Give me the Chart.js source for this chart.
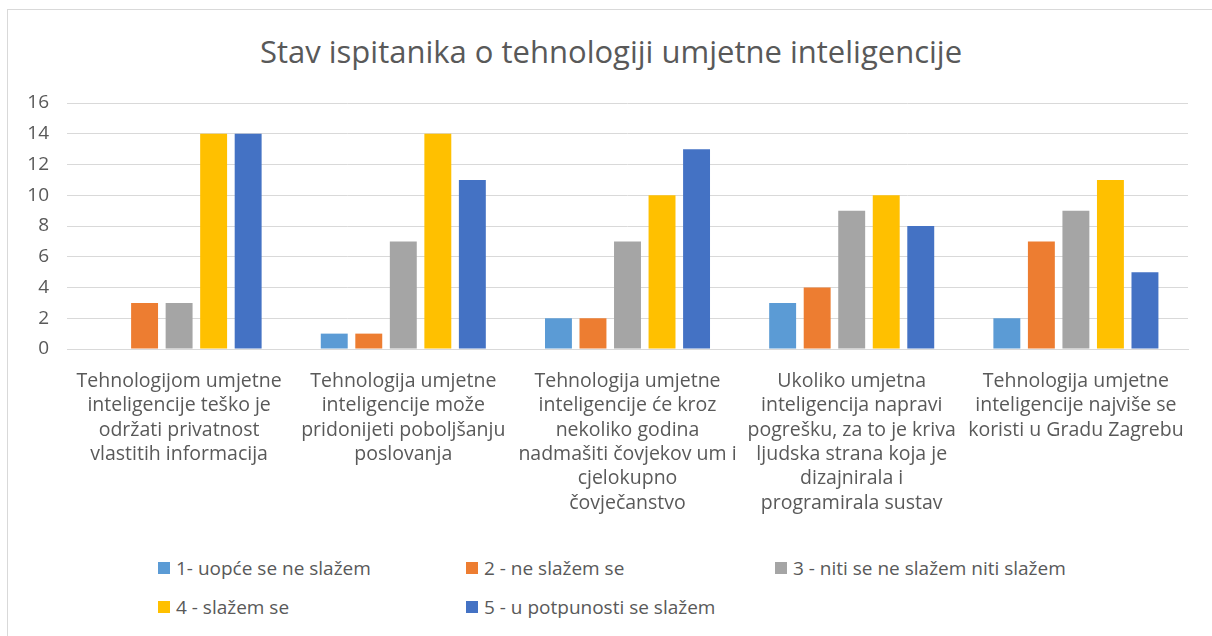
<!DOCTYPE html>
<html>
<head>
<meta charset="utf-8">
<script src="https://cdn.jsdelivr.net/npm/chart.js@4/dist/chart.umd.min.js"></script>
<style>
  body { margin: 0; background: #fff; }
  #frame {
    position: absolute; left: 7px; top: 9px; width: 1220px; height: 640px;
    border: 1px solid #d9d9d9; box-sizing: border-box;
  }
  #title {
    position: absolute; left: 0; top: 32px; width: 1222px; text-align: center;
    font-family: 'Open Sans', sans-serif; font-size: 31px; line-height: 38px; color: #595959;
  }
  #wrap { position: absolute; left: 0; top: 0; width: 1212px; height: 540px; }
  #legend { position: absolute; left: 0; top: 0; font-family: 'Open Sans', sans-serif; font-size: 19px; color: #595959; }
  .legend-item { position: absolute; white-space: nowrap; display: flex; align-items: center; height: 26px; line-height: 26px; }
  .legend-box { width: 12px; height: 12px; margin-right: 6px; }
</style>
</head>
<body>
<div id="frame"></div>
<div id="title">Stav ispitanika o tehnologiji umjetne inteligencije</div>
<div id="wrap"><canvas id="chart"></canvas></div>
<div id="legend"></div>
<script>
const categories = [
  ['Tehnologijom umjetne', 'inteligencije teško je', 'održati privatnost', 'vlastitih informacija'],
  ['Tehnologija umjetne', 'inteligencije može', 'pridonijeti poboljšanju', 'poslovanja'],
  ['Tehnologija umjetne', 'inteligencije će kroz', 'nekoliko godina', 'nadmašiti čovjekov um i', 'cjelokupno', 'čovječanstvo'],
  ['Ukoliko umjetna', 'inteligencija napravi', 'pogrešku, za to je kriva', 'ljudska strana koja je', 'dizajnirala i', 'programirala sustav'],
  ['Tehnologija umjetne', 'inteligencije najviše se', 'koristi u Gradu Zagrebu'],
];

const seriesNames = [
  '1- uopće se ne slažem',
  '2 - ne slažem se',
  '3 - niti se ne slažem niti slažem',
  '4 - slažem se',
  '5 - u potpunosti se slažem',
];
const seriesColors = ['#5b9bd5', '#ed7d31', '#a5a5a5', '#ffc000', '#4472c4'];

const s1 = [0, 1, 2, 3, 2];
const s2 = [3, 1, 2, 4, 7];
const s3 = [3, 7, 7, 9, 9];
const s4 = [14, 14, 10, 10, 11];
const s5 = [14, 11, 13, 8, 5];
const seriesValues = [s1, s2, s3, s4, s5];

const textColor = '#595959';
const font = "'Open Sans', sans-serif";

const ctx = document.getElementById('chart').getContext('2d');
ctx.canvas.parentNode.style.width = '1212px';
ctx.canvas.parentNode.style.height = '540px';

const chart = new Chart(ctx, {
  type: 'bar',
  data: {
    labels: categories,
    datasets: seriesNames.map((name, i) => {
      return {
        label: name,
        data: seriesValues[i],
        backgroundColor: seriesColors[i],
        barPercentage: 0.78,
        categoryPercentage: 0.77,
      };
    }),
  },
  options: {
    responsive: true,
    maintainAspectRatio: false,
    animation: false,
    layout: { padding: { left: 8, right: 24, top: 103, bottom: 0 } },
    plugins: {
      legend: { display: false },
      tooltip: { enabled: false },
      title: { display: false },
    },
    scales: {
      x: {
        grid: { display: false, drawTicks: false },
        border: { color: '#d9d9d9' },
        ticks: {
          color: textColor,
          font: { family: font, size: 19.5, lineHeight: 1.25 },
          maxRotation: 0,
          autoSkip: false,
          padding: 20,
        },
        afterFit: scale => {
          scale.height = 191;
        },
      },
      y: {
        min: 0,
        max: 16,
        grid: { color: '#d9d9d9', drawTicks: false },
        border: { display: false },
        ticks: {
          stepSize: 2,
          color: textColor,
          font: { family: font, size: 19 },
          padding: 18,
        },
        afterFit: scale => {
          scale.width = 59;
        },
      },
    },
  },
});

// legend in fixed columns like the original
const legendEl = document.getElementById('legend');
const legendPos = [
  [158, 555], [466, 555], [775, 555],
  [158, 594], [466, 594],
];
const legendMark = seriesNames
  .map((name, i) => {
    return `<div class="legend-item" style="left:${legendPos[i][0]}px;top:${legendPos[i][1]}px">
      <span class="legend-box" style="background:${seriesColors[i]}"></span>${name}</div>`;
  })
  .join('');
legendEl.insertAdjacentHTML('beforeend', legendMark);
</script>
</body>
</html>
